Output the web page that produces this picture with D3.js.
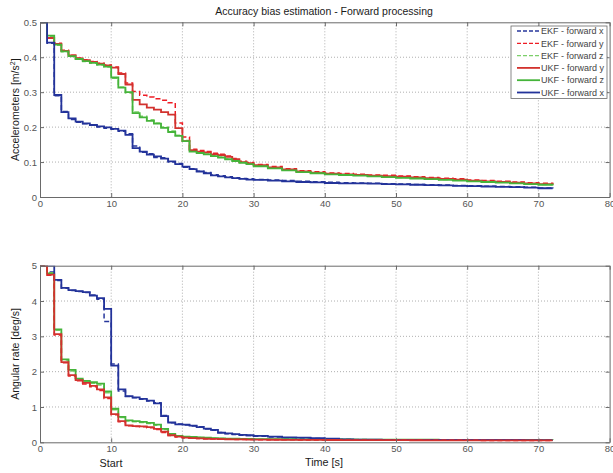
<!DOCTYPE html>
<html>
<head>
<meta charset="utf-8">
<script src="https://cdn.jsdelivr.net/npm/d3@7"></script>
<style>
  body { margin: 0; background: #fff; }
  svg { display: block; }
  text { font-family: "Liberation Sans", Arial, sans-serif; }
</style>
</head>
<body>
<svg id="chart" width="613" height="473"></svg>
<script>
// Sample times [s] shared by every bias series (values held until the next sample)
const timeS = [0,1,2,3,4,5,6,7,8,9,10,11,12,13,14,15,16,17,18,19,20,21,22,23,24,25,26,27,28,29,30,
  32,34,36,38,40,42,44,46,48,50,52,54,56,58,60,62,64,66,68,70,72];

// Accelerometer bias accuracy [m/s^2]
const accEkfX = [0.5,0.44,0.29,0.245,0.222,0.214,0.21,0.205,0.2,0.197, 0.194,0.188,0.181,0.146,0.128,0.124,0.113,0.112,0.1,0.096, 0.085,0.081,0.074,0.07,0.064,0.061,0.058,0.055,0.053,0.052, 0.05,
  0.049,0.047,0.045,0.044,0.042,0.041,0.04,0.039,0.038,0.037,0.036,0.035,0.034,0.033,0.032,0.031,0.03,0.029,0.028,0.026,0.025];
const accEkfY = [0.5,0.456,0.44,0.42,0.406,0.398,0.393,0.388,0.383,0.378, 0.372,0.355,0.326,0.302,0.291,0.286,0.281,0.277,0.27,0.212, 0.172,0.137,0.133,0.13,0.125,0.122,0.117,0.11,0.102,0.099, 0.093,
  0.087,0.081,0.075,0.072,0.069,0.067,0.065,0.063,0.062,0.06,0.058,0.056,0.054,0.052,0.049,0.047,0.045,0.043,0.041,0.039,0.037];
const accEkfZ = [0.5,0.46,0.434,0.416,0.402,0.394,0.388,0.383,0.378,0.372, 0.34,0.315,0.298,0.243,0.231,0.221,0.212,0.2,0.189,0.177, 0.162,0.132,0.127,0.123,0.118,0.114,0.109,0.104,0.099,0.095, 0.089,
  0.083,0.077,0.072,0.069,0.066,0.064,0.062,0.06,0.058,0.056,0.054,0.052,0.05,0.048,0.046,0.044,0.042,0.04,0.038,0.036,0.034];
const accUkfY = [0.5,0.455,0.438,0.418,0.405,0.397,0.392,0.387,0.382,0.377, 0.37,0.352,0.322,0.278,0.265,0.256,0.25,0.243,0.236,0.197, 0.16,0.134,0.13,0.128,0.122,0.12,0.115,0.108,0.1,0.097, 0.091,
  0.085,0.079,0.073,0.07,0.067,0.065,0.063,0.061,0.06,0.058,0.056,0.054,0.052,0.05,0.047,0.045,0.043,0.041,0.039,0.037,0.036];
const accUkfZ = [0.5,0.462,0.436,0.417,0.403,0.395,0.389,0.384,0.379,0.373, 0.342,0.313,0.3,0.24,0.228,0.218,0.21,0.198,0.186,0.175, 0.16,0.13,0.126,0.122,0.117,0.113,0.108,0.103,0.098,0.094, 0.088,
  0.082,0.076,0.071,0.068,0.065,0.063,0.061,0.059,0.057,0.055,0.053,0.051,0.049,0.047,0.045,0.043,0.041,0.039,0.037,0.035,0.033];
const accUkfX = [0.5,0.442,0.292,0.243,0.225,0.216,0.211,0.206,0.202,0.199, 0.195,0.19,0.178,0.14,0.13,0.121,0.116,0.11,0.102,0.094, 0.087,0.08,0.073,0.068,0.062,0.059,0.056,0.054,0.052,0.05, 0.049,
  0.047,0.045,0.043,0.042,0.04,0.039,0.039,0.038,0.037,0.036,0.035,0.034,0.033,0.032,0.031,0.03,0.029,0.028,0.027,0.025,0.024];

// Gyroscope bias accuracy [deg/s]
const gyrEkfX = [5,4.82,4.58,4.36,4.3,4.27,4.24,4.17,4.05,3.42, 2.22,1.45,1.3,1.26,1.22,1.17,1.12,0.76,0.55,0.52, 0.49,0.46,0.44,0.38,0.34,0.28,0.24,0.22,0.2,0.19, 0.17,
  0.15,0.13,0.12,0.11,0.09,0.08,0.074,0.071,0.07,0.069,0.068,0.068,0.067,0.067,0.066,0.066,0.065,0.065,0.064,0.064,0.064];
const gyrEkfY = [5,4.73,3.04,2.25,1.88,1.74,1.65,1.57,1.47,1.24, 0.78,0.58,0.47,0.45,0.44,0.41,0.36,0.28,0.19,0.15, 0.125,0.115,0.105,0.1,0.093,0.088,0.084,0.081,0.079,0.077, 0.074,
  0.071,0.069,0.067,0.065,0.064,0.062,0.061,0.06,0.059,0.058,0.057,0.056,0.056,0.055,0.055,0.054,0.054,0.053,0.053,0.052,0.052];
const gyrEkfZ = [5,4.8,3.17,2.33,2.02,1.78,1.72,1.67,1.62,1.4, 0.92,0.7,0.6,0.58,0.56,0.53,0.48,0.36,0.23,0.17, 0.155,0.145,0.135,0.125,0.115,0.108,0.102,0.098,0.095,0.092, 0.088,
  0.086,0.084,0.082,0.08,0.078,0.077,0.076,0.074,0.073,0.072,0.071,0.07,0.069,0.068,0.067,0.066,0.065,0.064,0.063,0.061,0.06];
const gyrUkfY = [5,4.75,3.06,2.27,1.9,1.76,1.68,1.6,1.5,1.27, 0.8,0.6,0.48,0.46,0.45,0.43,0.38,0.3,0.2,0.16, 0.13,0.12,0.11,0.1,0.095,0.09,0.085,0.082,0.08,0.078, 0.075,
  0.072,0.07,0.068,0.066,0.065,0.063,0.062,0.061,0.06,0.059,0.058,0.057,0.057,0.056,0.056,0.055,0.055,0.054,0.054,0.053,0.053];
const gyrUkfZ = [5,4.78,3.2,2.35,2.05,1.8,1.74,1.7,1.66,1.44, 0.95,0.72,0.62,0.6,0.58,0.55,0.5,0.38,0.24,0.18, 0.16,0.15,0.14,0.13,0.12,0.11,0.105,0.1,0.097,0.094, 0.09,
  0.088,0.086,0.084,0.082,0.08,0.079,0.078,0.076,0.075,0.074,0.073,0.072,0.071,0.07,0.069,0.068,0.067,0.066,0.065,0.063,0.062];
const gyrUkfX = [5,5,4.6,4.37,4.31,4.28,4.25,4.15,4.08,3.78, 2.17,1.5,1.31,1.27,1.23,1.18,1.1,0.74,0.56,0.51, 0.5,0.47,0.43,0.39,0.35,0.27,0.25,0.23,0.21,0.2, 0.18,
  0.16,0.14,0.13,0.12,0.1,0.08,0.075,0.072,0.07,0.07,0.069,0.068,0.068,0.067,0.066,0.066,0.065,0.065,0.064,0.064,0.064];

// Legend entries, in legend order
const seriesNames = ["EKF - forward x", "EKF - forward y", "EKF - forward z", "UKF - forward y", "UKF - forward z", "UKF - forward x"];
const seriesColors = ["#27379c", "#ee1c24", "#7ccf6a", "#d2322e", "#45b43a", "#23339a"];
const seriesDashed = [true, true, true, false, false, false];

// Tick values
const timeTicks = [0, 10, 20, 30, 40, 50, 60, 70, 80];
const accTicks = [0, 0.1, 0.2, 0.3, 0.4, 0.5];
const gyrTicks = [0, 1, 2, 3, 4, 5];

const svg = d3.select("#chart");
const left = 40, right = 609.6;

const x = d3.scaleLinear().domain([0, 80]).range([left, right]);

function drawPanel(cfg) {
  const { yScale, yTicks, yFormat, series, order, top, bottom, id } = cfg;
  const g = svg.append("g");

  // clip so steps above the range stay inside the box
  svg.append("clipPath").attr("id", id)
    .append("rect").attr("x", left).attr("y", top)
    .attr("width", right - left).attr("height", bottom - top);

  // dotted grid
  const grid = g.append("g").attr("stroke", "#9a9a9a").attr("stroke-width", 0.8)
    .attr("stroke-dasharray", "1,2");
  grid.selectAll("line.v").data(timeTicks.slice(1, -1)).join("line")
    .attr("x1", d => x(d)).attr("x2", d => x(d))
    .attr("y1", top).attr("y2", bottom);
  grid.selectAll("line.h").data(yTicks.slice(1, -1)).join("line")
    .attr("x1", left).attr("x2", right)
    .attr("y1", d => yScale(d)).attr("y2", d => yScale(d));

  // series as held (step) values
  const line = d3.line()
    .x((d, i) => x(timeS[i]))
    .y(d => yScale(d))
    .curve(d3.curveStepAfter);
  const lines = g.append("g").attr("clip-path", `url(#${id})`).attr("fill", "none");
  order.forEach(i => {
    lines.append("path")
      .attr("d", line(series[i]))
      .attr("stroke", seriesColors[i])
      .attr("stroke-width", seriesDashed[i] ? 1.5 : 1.8)
      .attr("stroke-dasharray", seriesDashed[i] ? "5,3" : null);
  });

  // axes: ticks pointing inward, labels outside
  const axB = d3.axisBottom(x).tickValues(timeTicks).tickSizeInner(-4).tickSizeOuter(0).tickPadding(3);
  const axT = d3.axisTop(x).tickValues(timeTicks).tickSizeInner(-4).tickSizeOuter(0).tickFormat("");
  const axL = d3.axisLeft(yScale).tickValues(yTicks).tickFormat(yFormat).tickSizeInner(-4).tickSizeOuter(0).tickPadding(3);
  const axR = d3.axisRight(yScale).tickValues(yTicks).tickSizeInner(-4).tickSizeOuter(0).tickFormat("");

  const styleAxis = sel => {
    sel.select(".domain").attr("stroke", "#6a6a6a");
    sel.selectAll(".tick line").attr("stroke", "#6a6a6a");
    sel.selectAll(".tick text").attr("fill", "#555").attr("font-size", 9.5)
      .attr("font-family", "Liberation Sans, Arial, sans-serif");
  };
  g.append("g").attr("transform", `translate(0,${bottom})`).call(axB).call(styleAxis);
  g.append("g").attr("transform", `translate(0,${top})`).call(axT).call(styleAxis);
  g.append("g").attr("transform", `translate(${left},0)`).call(axL).call(styleAxis);
  g.append("g").attr("transform", `translate(${right},0)`).call(axR).call(styleAxis);
  return g;
}

// ---- upper panel: accelerometers ----
const accTop = 22.3, accBottom = 197;
const yAcc = d3.scaleLinear().domain([0, 0.5]).range([accBottom, accTop]);
drawPanel({
  id: "clipAcc", yScale: yAcc, yTicks: accTicks, yFormat: d => d === 0 ? "0" : d3.format(".1f")(d),
  series: [accEkfX, accEkfY, accEkfZ, accUkfY, accUkfZ, accUkfX],
  order: [0, 1, 2, 3, 4, 5],
  top: accTop, bottom: accBottom
});

// ---- lower panel: angular rate ----
const gyrTop = 265.7, gyrBottom = 442.3;
const yGyr = d3.scaleLinear().domain([0, 5]).range([gyrBottom, gyrTop]);
drawPanel({
  id: "clipGyr", yScale: yGyr, yTicks: gyrTicks, yFormat: d3.format("d"),
  series: [gyrEkfX, gyrEkfY, gyrEkfZ, gyrUkfY, gyrUkfZ, gyrUkfX],
  order: [0, 2, 4, 5, 1, 3],
  top: gyrTop, bottom: gyrBottom
});

// ---- titles and labels ----
svg.append("text").attr("x", 324).attr("y", 15).attr("text-anchor", "middle")
  .attr("font-size", 10.5).attr("fill", "#1a1a1a")
  .text("Accuracy bias estimation - Forward processing");

const accLabel = svg.append("text")
  .attr("transform", `translate(19,${(accTop + accBottom) / 2}) rotate(-90)`)
  .attr("text-anchor", "middle").attr("font-size", 10.5).attr("fill", "#1a1a1a");
accLabel.append("tspan").text("Accelerometers [m/s");
accLabel.append("tspan").attr("font-size", 7).attr("dy", -4).text("2");
accLabel.append("tspan").attr("dy", 4).text("]");

svg.append("text")
  .attr("transform", `translate(19,${(gyrTop + gyrBottom) / 2}) rotate(-90)`)
  .attr("text-anchor", "middle").attr("font-size", 10.5).attr("fill", "#1a1a1a")
  .text("Angular rate [deg/s]");

svg.append("text").attr("x", 324).attr("y", 466).attr("text-anchor", "middle")
  .attr("font-size", 10.8).attr("fill", "#1a1a1a").text("Time [s]");
svg.append("text").attr("x", 111).attr("y", 467).attr("text-anchor", "middle")
  .attr("font-size", 10.8).attr("fill", "#1a1a1a").text("Start");

// ---- legend ----
const lg = svg.append("g");
lg.append("rect").attr("x", 511).attr("y", 26).attr("width", 96).attr("height", 72.5)
  .attr("fill", "#fff").attr("stroke", "#6a6a6a").attr("stroke-width", 0.8);
const rowY = d3.scalePoint().domain(d3.range(seriesNames.length)).range([31, 92.5]);
seriesNames.forEach((name, i) => {
  const yy = rowY(i);
  lg.append("line").attr("x1", 517).attr("x2", 540).attr("y1", yy).attr("y2", yy)
    .attr("stroke", seriesColors[i]).attr("stroke-width", seriesDashed[i] ? 1.3 : 1.8)
    .attr("stroke-dasharray", seriesDashed[i] ? "4,2" : null);
  lg.append("text").attr("x", 541).attr("y", yy + 3.2).attr("font-size", 9)
    .attr("fill", "#444").text(name);
});
</script>
</body>
</html>
